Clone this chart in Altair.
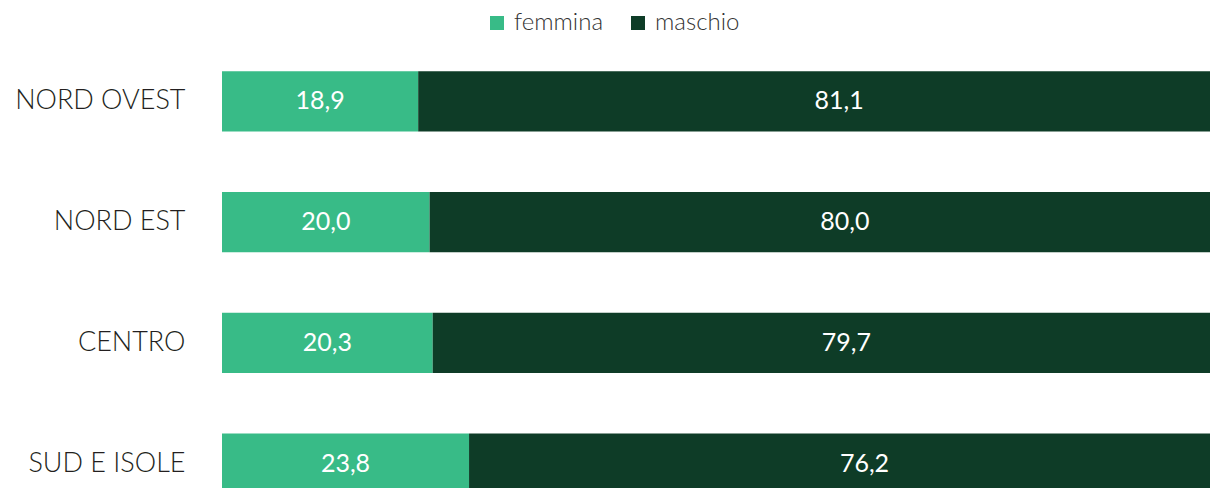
import altair as alt
import pandas as pd

regions = ["NORD OVEST", "NORD EST", "CENTRO", "SUD E ISOLE"]
femmina = [18.9, 20.0, 20.3, 23.8]
maschio = [81.1, 80.0, 79.7, 76.2]
series = ["femmina", "maschio"]
colors = ["#38BB87", "#0E3C27"]

rows = []
for r, f, m in zip(regions, femmina, maschio):
    rows.append({"regione": r, "sesso": "femmina", "valore": f, "ord": 0})
    rows.append({"regione": r, "sesso": "maschio", "valore": m, "ord": 1})
df = pd.DataFrame(rows)

FONT = "Lato"

base = alt.Chart(df).transform_stack(
    stack="valore", groupby=["regione"], as_=["x0", "x1"],
    sort=[alt.SortField("ord", order="ascending")]
).transform_calculate(
    mid="(datum.x0 + datum.x1) / 2",
    lab="replace(format(datum.valore, '.1f'), '.', ',')"
)

yenc = alt.Y(
    "regione:N", sort=regions,
    scale=alt.Scale(range=[0, 483], paddingInner=0.5, paddingOuter=0.25),
    axis=alt.Axis(title=None, ticks=False, domain=False, labelFontSize=27,
                  labelPadding=37, labelFont=FONT, labelFontWeight=300,
                  labelColor="#231F20", labelLimit=300),
)
xscale = alt.Scale(domain=[0, 100], range=[0, 1038])

bars = base.mark_bar(clip=True).encode(
    y=yenc,
    x=alt.X("x0:Q", scale=xscale, axis=None),
    x2="x1:Q",
    color=alt.Color(
        "sesso:N",
        scale=alt.Scale(domain=series, range=colors),
        legend=alt.Legend(
            orient="none", legendX=263, legendY=-30, direction="horizontal",
            title=None, symbolType="square", symbolSize=196,
            symbolStrokeWidth=0, labelFontSize=24, labelFont=FONT,
            labelFontWeight=300,
            labelColor="#333333", columnPadding=22, labelOffset=5,
        ),
    ),
)

texts = base.mark_text(color="white", fontSize=25, font=FONT, clip=True).encode(
    y=yenc,
    x=alt.X("mid:Q", scale=xscale, axis=None),
    text="lab:N",
)

chart = alt.layer(bars, texts).properties(
    width=988, height=447,
    autosize=alt.AutoSizeParams(type="none"),
    padding={"left": 214, "top": 33, "right": 0, "bottom": 0},
).configure_view(stroke=None)

chart.save("out.html", embed_options={"renderer": "svg", "actions": False})
